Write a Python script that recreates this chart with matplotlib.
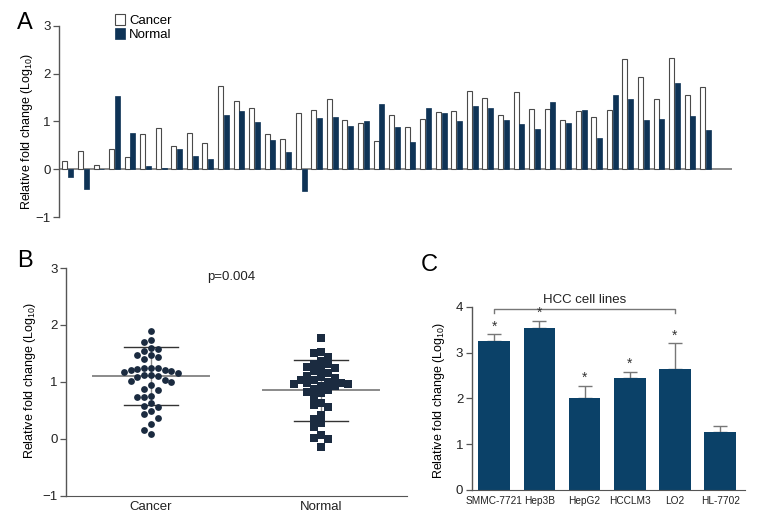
import matplotlib
matplotlib.use("Agg")
import matplotlib.pyplot as plt
import numpy as np

plt.rcParams['font.family'] = ['Liberation Sans', 'DejaVu Sans']
plt.rcParams['mathtext.fontset'] = 'custom'
plt.rcParams['mathtext.rm'] = 'Liberation Sans'
plt.rcParams['axes.unicode_minus'] = True

# ---- panel A: paired samples ----
a_cancer = [0.17, 0.38, 0.08, 0.42, 0.26, 0.73, 0.86, 0.49, 0.76, 0.54,
            1.74, 1.42, 1.28, 0.73, 0.63, 1.17, 1.23, 1.46, 1.04, 0.96,
            0.59, 1.13, 0.89, 1.05, 1.20, 1.21, 1.64, 1.49, 1.13, 1.61,
            1.25, 1.26, 1.02, 1.21, 1.09, 1.23, 2.31, 1.92, 1.48, 2.32,
            1.55, 1.72]
a_normal = [-0.16, -0.42, 0.00, 1.54, 0.75, 0.07, 0.03, 0.42, 0.28, 0.22,
            1.14, 1.21, 0.99, 0.61, 0.35, -0.46, 1.07, 1.09, 0.91, 1.01,
            1.36, 0.89, 0.56, 1.28, 1.18, 1.00, 1.32, 1.28, 1.03, 0.95,
            0.84, 1.41, 0.96, 1.23, 0.66, 1.56, 1.48, 1.03, 1.06, 1.81,
            1.12, 0.82]

# ---- panel B: scatter ----
b_cancer = [1.90, 1.70, 1.74, 1.58, 1.54, 1.60, 1.47, 1.41, 1.44, 1.47,
            1.25, 1.23, 1.21, 1.18, 1.15, 1.19, 1.20, 1.24, 1.25, 1.12,
            1.10, 1.08, 1.12, 1.03, 1.00, 1.02, 0.95, 0.87, 0.85, 0.75,
            0.73, 0.74, 0.57, 0.55, 0.62, 0.37, 0.44, 0.49, 0.26, 0.16,
            0.09]
b_normal = [1.77, 1.51, 1.53, 1.37, 1.44, 1.31, 1.32, 1.25, 1.19, 1.22,
            1.26, 1.11, 1.07, 1.04, 1.15, 1.04, 1.09, 0.97, 0.92, 0.88,
            1.00, 0.97, 0.98, 0.98, 0.82, 0.85, 0.93, 0.74, 0.80, 0.60,
            0.55, 0.62, 0.41, 0.34, 0.27, 0.21, 0.06, 0.00, 0.02, -0.14]
b_groups = ['Cancer', 'Normal']
b_mean = [1.10, 0.85]
b_sd = [0.51, 0.535]
p_text = 'p=0.004'

# ---- panel C: cell lines ----
c_lines = ['SMMC-7721', 'Hep3B', 'HepG2', 'HCCLM3', 'LO2', 'HL-7702']
c_vals = [3.25, 3.53, 2.00, 2.44, 2.64, 1.27]
c_err = [0.15, 0.17, 0.28, 0.14, 0.56, 0.13]
c_sig = [True, True, True, True, True, False]

WHITE_EDGE = '#4a4a4a'
NAVY_A = '#0e3356'
NAVY_C = '#0b4168'
DOT = '#1b2b40'
AX = '#555555'
TXT = '#222222'
YLAB = 'Relative fold change (Log$_{10}$)'
TICK_FS = 9.5
LAB_FS = 9

fig = plt.figure(figsize=(7.68, 5.28), dpi=100)


def style_left(ax):
    for s in ['top', 'right', 'bottom']:
        ax.spines[s].set_visible(False)
    ax.spines['left'].set_color(AX)
    ax.spines['left'].set_linewidth(1.0)
    ax.tick_params(axis='y', colors=AX, labelcolor=TXT, labelsize=TICK_FS,
                   length=4, width=0.9, pad=2)


# panel A
axA = fig.add_axes([0.0768, 0.589, 0.876, 0.362])
x = np.arange(len(a_cancer))
w = 0.32
axA.bar(x - 0.185, a_cancer, w, color='white', edgecolor=WHITE_EDGE,
        linewidth=0.8, label='Cancer')
axA.bar(x + 0.185, a_normal, w, color=NAVY_A, edgecolor=NAVY_A,
        linewidth=0.5, label='Normal')
axA.axhline(0, color='#777777', lw=1.2, zorder=0)
axA.set_xlim(-0.57, 42.68)
axA.set_ylim(-1, 3)
axA.set_yticks([-1, 0, 1, 2, 3])
axA.set_xticks([])
style_left(axA)
axA.set_ylabel(YLAB, fontsize=LAB_FS)
axA.yaxis.set_label_coords(-0.036, 0.447)
axA.legend(loc='upper left', bbox_to_anchor=(0.075, 1.09), frameon=False,
           fontsize=9.5, handlelength=0.8, handleheight=0.9,
           handletextpad=0.3, labelspacing=0.1, borderaxespad=0)
fig.text(0.022, 0.957, 'A', fontsize=17, va='center', ha='left')

# panel B
axB = fig.add_axes([0.0859, 0.0612, 0.444, 0.4312])


def swarm(vals, step, gap):
    vals = np.asarray(vals)
    order = np.argsort(-vals)
    cols = {}
    offs = np.zeros(len(vals))
    cand = [0]
    for k in range(1, 12):
        cand += [-k, k]
    for i in order:
        for k in cand:
            if all(abs(vals[i] - y) >= gap for y in cols.get(k, [])):
                cols.setdefault(k, []).append(vals[i])
                offs[i] = k * step
                break
    return offs


for gi, (vals, mk) in enumerate([(b_cancer, 'o'), (b_normal, 's')]):
    offs = swarm(vals, 0.04, 0.125)
    axB.scatter(gi + offs, vals, marker=mk, s=24 if mk == 'o' else 28,
                color=DOT, zorder=3, linewidths=0)
    m, sd = b_mean[gi], b_sd[gi]
    axB.plot([gi - 0.34, gi + 0.34], [m, m], color='#8a8a8a', lw=1.4, zorder=2)
    axB.plot([gi - 0.16, gi + 0.16], [m + sd, m + sd], color='#333333', lw=1.0, zorder=2)
    axB.plot([gi - 0.16, gi + 0.16], [m - sd, m - sd], color='#333333', lw=1.0, zorder=2)
    axB.plot([gi, gi], [m - sd, m + sd], color='#8a8a8a', lw=1.0, zorder=1)

axB.set_xlim(-0.5, 1.505)
axB.set_ylim(-1, 3)
axB.set_yticks([-1, 0, 1, 2, 3])
axB.set_xticks([0, 1])
axB.set_xticklabels(b_groups)
style_left(axB)
axB.spines['bottom'].set_visible(True)
axB.spines['bottom'].set_color(AX)
axB.tick_params(axis='x', length=0, labelsize=TICK_FS, labelcolor=TXT, pad=4)
axB.set_ylabel(YLAB, fontsize=LAB_FS)
axB.yaxis.set_label_coords(-0.082, 0.508)
axB.text(0.47, 2.84, p_text, fontsize=TICK_FS, ha='center', va='center', color=TXT)
fig.text(0.022, 0.505, 'B', fontsize=17, va='center', ha='left')

# panel C
axC = fig.add_axes([0.614, 0.072, 0.356, 0.347])
xc = np.arange(len(c_lines))
axC.bar(xc, c_vals, 0.7, color=NAVY_C, zorder=2)
axC.errorbar(xc, c_vals, yerr=[np.zeros(len(c_err)), c_err], fmt='none',
             ecolor='#777777', elinewidth=1.0, capsize=5, capthick=1.0, zorder=1)
for xi, v, e, s in zip(xc, c_vals, c_err, c_sig):
    if s:
        axC.text(xi, v + e + 0.02, '*', ha='center', va='bottom', fontsize=10,
                 color='#333333')
sig_idx = [i for i, s in enumerate(c_sig) if s]
x0, x1 = xc[sig_idx[0]], xc[sig_idx[-1]]
axC.plot([x0, x0, x1, x1], [3.87, 3.95, 3.95, 3.87], color='#777777', lw=1.0,
         clip_on=False)
axC.text((x0 + x1) / 2, 4.02, 'HCC cell lines', ha='center', va='bottom',
         fontsize=TICK_FS, color=TXT)
axC.set_xlim(-0.5, 5.55)
axC.set_ylim(0, 4)
axC.set_yticks([0, 1, 2, 3, 4])
axC.set_xticks(xc)
axC.set_xticklabels(c_lines)
style_left(axC)
axC.spines['bottom'].set_visible(True)
axC.spines['bottom'].set_color(AX)
axC.tick_params(axis='x', length=0, labelsize=7.3, labelcolor=TXT, pad=4)
axC.set_ylabel(YLAB, fontsize=LAB_FS)
axC.yaxis.set_label_coords(-0.091, 0.49)
fig.text(0.548, 0.498, 'C', fontsize=17, va='center', ha='left')

fig.savefig('out.png', dpi=100)
